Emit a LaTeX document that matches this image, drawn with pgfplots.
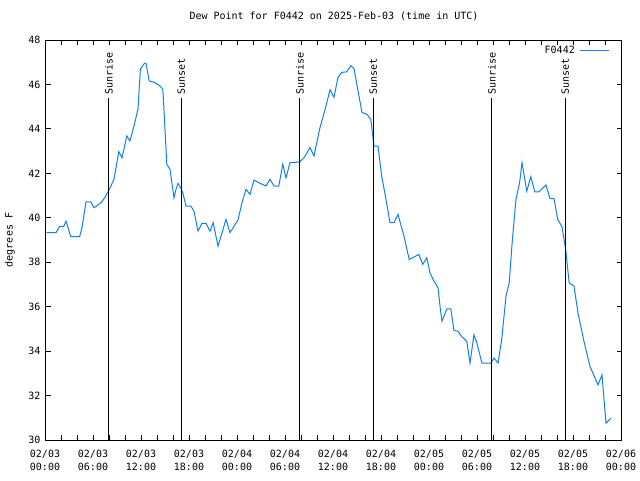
\documentclass[border=0pt]{standalone}
\usepackage{fontspec}
\setmainfont{DejaVu Sans Mono}
\usepackage{pgfplots}
\pgfplotsset{compat=1.18}
\definecolor{dp}{RGB}{16,128,240}
\pgfplotstableread{
h v
0.08 39.33
1.25 39.33
1.67 39.6
2.2 39.6
2.5 39.85
3.1 39.15
4.2 39.15
4.5 39.55
5.0 40.72
5.6 40.72
6.0 40.45
6.96 40.7
7.46 40.98
7.875 41.25
8.5 41.73
8.9 42.56
9.1 42.98
9.5 42.7
10.1 43.68
10.5 43.46
11.0 44.13
11.5 44.89
11.8 46.69
12.3 46.95
12.5 46.95
12.9 46.16
13.6 46.09
14.2 45.94
14.6 45.79
14.8 44.51
15.1 42.41
15.5 42.18
16.0 40.9
16.25 41.28
16.5 41.55
16.8 41.36
17.1 41.13
17.5 40.53
18.1 40.53
18.5 40.3
19.0 39.4
19.5 39.75
20.0 39.75
20.5 39.4
20.9 39.78
21.5 38.72
22.5 39.93
23.0 39.33
24.0 39.9
24.5 40.68
25.0 41.28
25.5 41.05
26.0 41.7
26.75 41.55
27.5 41.43
28.0 41.73
28.5 41.43
29.1 41.43
29.6 42.41
30.0 41.8
30.5 42.48
31.7 42.51
32.25 42.7
33.0 43.16
33.5 42.78
34.2 43.99
34.9 44.89
35.5 45.76
36.0 45.42
36.5 46.32
36.96 46.54
37.6 46.57
38.1 46.84
38.5 46.72
38.96 45.79
39.5 44.74
40.1 44.66
40.6 44.44
40.85 43.68
41.0 43.23
41.5 43.23
41.96 41.88
42.5 40.83
43.0 39.78
43.5 39.78
44.0 40.15
44.75 39.17
45.4 38.12
46.6 38.35
47.1 37.9
47.6 38.2
48.0 37.52
48.4 37.22
49.0 36.85
49.3 35.87
49.5 35.34
50.1 35.9
50.6 35.9
51.0 34.93
51.5 34.89
51.96 34.66
52.6 34.44
53.0 33.46
53.5 34.74
53.8 34.44
54.5 33.46
55.6 33.46
56.0 33.69
56.5 33.46
56.96 34.51
57.5 36.47
57.9 37.07
58.3 39.02
58.75 40.83
59.2 41.58
59.5 42.48
60.1 41.2
60.6 41.85
61.1 41.17
61.6 41.17
62.5 41.47
63.0 40.86
63.5 40.86
63.96 39.93
64.5 39.6
64.96 38.57
65.4 37.07
66.0 36.92
66.5 35.72
67.2 34.51
68.0 33.31
69.0 32.48
69.5 32.93
70.0 30.76
70.6 30.98
}\dewtable
\begin{document}
\begin{tikzpicture}
\path[use as bounding box] (-46pt,-40pt) rectangle (594pt,440pt);
\begin{axis}[
  at={(0,0)}, anchor=south west,
  scale only axis, width=576pt, height=400pt,
  xmin=0, xmax=72, ymin=30, ymax=48,
  xtick={0,6,...,72},
  xticklabels={{02/03\\00:00},{02/03\\06:00},{02/03\\12:00},{02/03\\18:00},{02/04\\00:00},{02/04\\06:00},{02/04\\12:00},{02/04\\18:00},{02/05\\00:00},{02/05\\06:00},{02/05\\12:00},{02/05\\18:00},{02/06\\00:00}},
  xticklabel style={align=center, font=\fontsize{10}{12.5}\selectfont, yshift=-7pt, xshift=-1pt},
  minor x tick num=2,
  ytick={30,32,...,48},
  yticklabel style={font=\fontsize{10}{12}\selectfont, xshift=-2pt},
  /pgf/number format/assume math mode=true,
  tick align=inside,
  major tick length=5pt, minor tick length=5pt,
  every tick/.style={black, line width=1pt},
  axis line style={line width=1pt},
  title={Dew Point for F0442 on 2025-Feb-03 (time in UTC)},
  title style={font=\fontsize{10}{12}\selectfont, at={(0.5,1)}, anchor=base, yshift=14pt},
  ylabel={degrees F},
  ylabel style={font=\fontsize{10}{12}\selectfont},
  every axis y label/.style={at={(axis description cs:0,0.5)}, xshift=-36pt, rotate=90, anchor=center},
  legend style={at={(1,1)}, anchor=north east, draw=none, fill=none, font=\fontsize{10}{12}\selectfont, xshift=-9pt, yshift=-2pt, column sep=3pt},
  legend plot pos=right,
  legend image code/.code={\draw[#1] (0pt,0pt) -- (29pt,0pt);},
  clip=false,
]
\addplot[dp, line width=1pt] table[x=h, y=v] {\dewtable};
\addlegendentry{F0442}
\addplot[black, line width=1pt, forget plot] coordinates {(7.875,30) (7.875,45.4)};
\addplot[black, line width=1pt, forget plot] coordinates {(16.9,30) (16.9,45.4)};
\addplot[black, line width=1pt, forget plot] coordinates {(31.75,30) (31.75,45.4)};
\addplot[black, line width=1pt, forget plot] coordinates {(40.9,30) (40.9,45.4)};
\addplot[black, line width=1pt, forget plot] coordinates {(55.75,30) (55.75,45.4)};
\addplot[black, line width=1pt, forget plot] coordinates {(64.9,30) (64.9,45.4)};
\node[rotate=90, anchor=west, font=\fontsize{10}{12}\selectfont, inner sep=1pt] at (axis cs:7.875,45.5) {Sunrise};
\node[rotate=90, anchor=west, font=\fontsize{10}{12}\selectfont, inner sep=1pt] at (axis cs:16.9,45.5) {Sunset};
\node[rotate=90, anchor=west, font=\fontsize{10}{12}\selectfont, inner sep=1pt] at (axis cs:31.75,45.5) {Sunrise};
\node[rotate=90, anchor=west, font=\fontsize{10}{12}\selectfont, inner sep=1pt] at (axis cs:40.9,45.5) {Sunset};
\node[rotate=90, anchor=west, font=\fontsize{10}{12}\selectfont, inner sep=1pt] at (axis cs:55.75,45.5) {Sunrise};
\node[rotate=90, anchor=west, font=\fontsize{10}{12}\selectfont, inner sep=1pt] at (axis cs:64.9,45.5) {Sunset};
\end{axis}
\end{tikzpicture}
\end{document}
